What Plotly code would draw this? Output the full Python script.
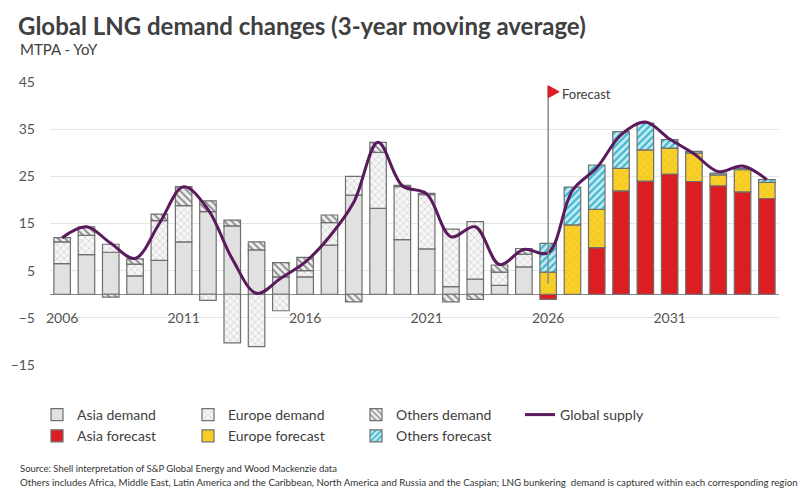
import plotly.graph_objects as go

# ---------------- data ----------------
years = list(range(2006, 2036))
hist_years = list(range(2006, 2026))
fc_years = list(range(2026, 2036))

asia_demand = [6.5, 8.4, 8.9, 3.9, 7.2, 11.1, 17.5, 14.5, 9.4, 3.7,
               3.7, 10.4, 21.0, 18.2, 11.6, 9.6, 1.6, 3.2, 1.9, 5.8]
europe_demand = [4.6, 4.1, 1.7, 2.5, 8.4, 7.7, -1.3, -10.3, -11.1, -3.5,
                 1.3, 4.8, 4.0, 11.9, 11.2, 11.5, 12.2, 12.2, 2.8, 2.7]
others_demand = [0.9, 1.8, -0.6, 1.1, 1.4, 4.0, 2.3, 1.2, 1.7, 3.0,
                 2.8, 1.6, -1.6, 2.1, 0.3, 0.3, -1.6, -1.1, 1.5, 1.2]

asia_forecast = [-1.1, 0.0, 9.9, 21.9, 24.0, 25.5, 23.9, 23.0, 21.7, 20.3]
europe_forecast = [4.7, 14.7, 8.1, 4.8, 6.6, 5.5, 6.0, 2.3, 4.7, 3.4]
others_forecast = [6.1, 8.0, 9.4, 7.8, 5.7, 1.8, 0.4, 0.4, 0.3, 0.6]

global_supply = [12.0, 14.3, 10.8, 7.6, 15.0, 22.8, 18.0, 7.5, 0.2, 3.4,
                 6.8, 12.2, 19.5, 32.2, 23.0, 21.3, 12.2, 14.3, 6.3, 9.5,
                 8.8, 22.0, 26.8, 33.8, 36.5, 32.9, 29.8, 26.0, 27.2, 24.3]

x_tick_vals = [2006, 2011, 2016, 2021, 2026, 2031]
y_tick_vals = [-15, -5, 5, 15, 25, 35, 45]
forecast_year = 2026
forecast_top = 44.2
forecast_bottom = 2.3

FONT = "Lato"
TXT = "#404040"
OUTLINE = "#6f6f6f"
BW = 0.68

fig = go.Figure()

def bar(x, y, name, legend, color, pattern=None):
    marker = dict(color=color, line=dict(color=OUTLINE, width=1.2))
    if pattern:
        marker["pattern"] = pattern
    fig.add_trace(go.Bar(x=x, y=y, name=name, legend=legend, width=BW,
                         marker=marker))

bar(hist_years, asia_demand, "Asia demand", "legend", "#e1e1e1")
bar(hist_years, europe_demand, "Europe demand", "legend2", "#f6f6f6",
    dict(shape="x", size=5, solidity=0.14, fgcolor="#a8a8a8", bgcolor="#f6f6f6",
         fgopacity=1))
bar(hist_years, others_demand, "Others demand", "legend3", "#efefef",
    dict(shape="\\", size=5, solidity=0.35, fgcolor="#8a8a8a", bgcolor="#efefef",
         fgopacity=1))
bar(fc_years, asia_forecast, "Asia forecast", "legend", "#dc1e23")
bar(fc_years, europe_forecast, "Europe forecast", "legend2", "#f8d12c",
    dict(shape="x", size=5, solidity=0.14, fgcolor="#e8b400", bgcolor="#f8d12c",
         fgopacity=1))
bar(fc_years, others_forecast, "Others forecast", "legend3", "#c4ecf4",
    dict(shape="/", size=5, solidity=0.45, fgcolor="#3fb7d0", bgcolor="#c4ecf4",
         fgopacity=1))

fig.add_trace(go.Scatter(x=years, y=global_supply, name="Global supply",
                         legend="legend4", mode="lines",
                         line=dict(color="#5a1a5c", width=3, shape="spline",
                                   smoothing=1.0)))

# forecast marker
fig.add_shape(type="line", xref="x", yref="y", x0=forecast_year, x1=forecast_year,
              y0=forecast_bottom, y1=forecast_top, layer="above",
              line=dict(color="#8c8c8c", width=1.5))
fig.add_shape(type="path", xref="x", yref="y", xsizemode="pixel", ysizemode="pixel",
              xanchor=forecast_year, yanchor=forecast_top,
              path="M0,0 L11,-6 L0,-12 Z", layer="above",
              fillcolor="#dc1e23", line=dict(color="#dc1e23", width=1))
fig.add_annotation(x=forecast_year, y=42.5, xref="x", yref="y", text="Forecast",
                   showarrow=False, xanchor="left", yanchor="middle", xshift=12,
                   font=dict(family=FONT, size=13, color=TXT))

legend_common = dict(orientation="v", xref="container", yref="container",
                     xanchor="left", yanchor="top", y=1 - 399 / 500,
                     bgcolor="rgba(0,0,0,0)",
                     font=dict(family=FONT, size=14, color=TXT),
                     tracegroupgap=0, itemwidth=30)

fig.update_layout(
    width=800, height=500,
    margin=dict(l=50, r=21, t=82, b=135, autoexpand=False),
    paper_bgcolor="white", plot_bgcolor="white",
    barmode="relative", bargap=0.3,
    title=dict(text="Global LNG demand changes (3-year moving average)",
               x=18 / 800, xanchor="left", xref="container",
               y=1 - 27 / 500, yanchor="middle", yref="container",
               font=dict(family=FONT, size=24, color=TXT, weight="bold")),
    font=dict(family=FONT, color=TXT),
    showlegend=True,
    legend=dict(legend_common, x=37 / 800),
    legend2=dict(legend_common, x=188 / 800),
    legend3=dict(legend_common, x=356 / 800),
    legend4=dict(legend_common, x=520 / 800),
    xaxis=dict(range=[2005.5, 2035.5], tickvals=x_tick_vals,
               ticktext=[str(v) for v in x_tick_vals],
               showgrid=False, zeroline=False, showline=False, ticks="",
               anchor="free", position=0.2, automargin=False,
               tickfont=dict(family=FONT, size=14, color="#555555")),
    yaxis=dict(range=[-15, 45], tickvals=y_tick_vals, showgrid=True,
               gridcolor="#e6e6e6", gridwidth=1, zeroline=True,
               zerolinecolor="#8a8a8a", zerolinewidth=1, showline=False,
               ticks="", ticklabelstandoff=14, automargin=False,
               tickfont=dict(family=FONT, size=14, color="#555555")),
)

# subtitle and footer (paper coords relative to plot area)
plot_l, plot_w, plot_b, plot_h = 50, 729, 365, 283
def px_to_paper(px, py):
    return (px - plot_l) / plot_w, (plot_b - py) / plot_h

sx, sy = px_to_paper(18, 49)
fig.add_annotation(x=sx, y=sy, xref="paper", yref="paper",
                   text="MTPA - YoY", showarrow=False, xanchor="left",
                   yanchor="middle", font=dict(family=FONT, size=15, color=TXT))
fx, fy1 = px_to_paper(18, 468)
_, fy2 = px_to_paper(18, 482)
fig.add_annotation(x=fx, y=fy1, xref="paper", yref="paper",
                   text="Source: Shell interpretation of S&P Global Energy and Wood Mackenzie data",
                   showarrow=False, xanchor="left", yanchor="middle",
                   font=dict(family=FONT, size=9.5, color="#333333"))
fig.add_annotation(x=fx, y=fy2, xref="paper", yref="paper",
                   text="Others includes Africa, Middle East, Latin America and the Caribbean, North America and Russia and the Caspian; LNG bunkering  demand is captured within each corresponding region",
                   showarrow=False, xanchor="left", yanchor="middle",
                   font=dict(family=FONT, size=9.7, color="#333333"))

fig.write_html("out.html")
